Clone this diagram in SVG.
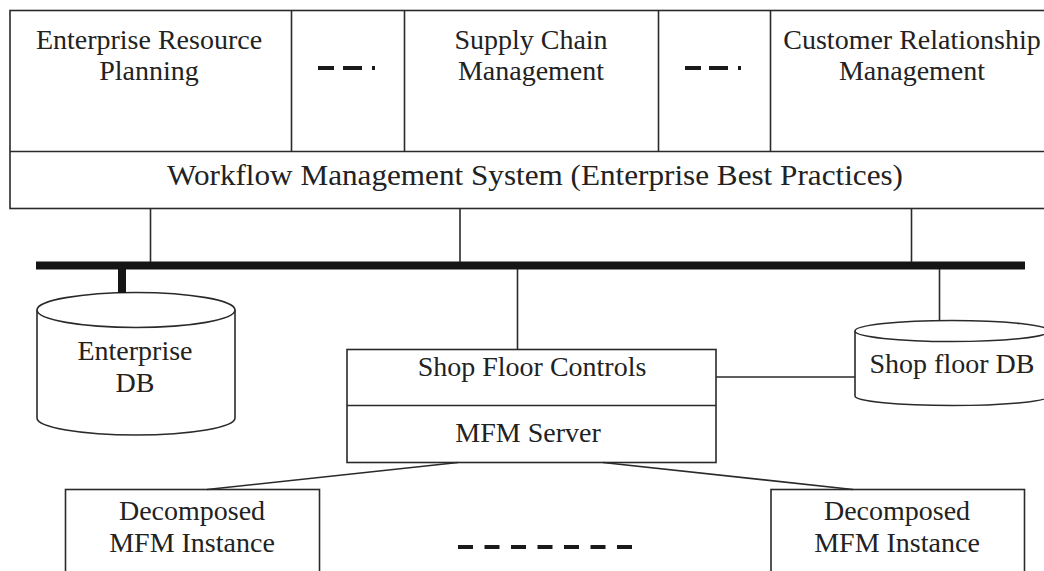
<svg xmlns="http://www.w3.org/2000/svg" width="1044" height="571" viewBox="0 0 1044 571" font-family="'Liberation Serif', 'DejaVu Serif', serif">
  <style>
    .box { fill: #fff; stroke: #2a2a2a; stroke-width: 1.6; }
    .line { fill: none; stroke: #2a2a2a; stroke-width: 1.6; }
    .bus { fill: none; stroke: #151515; stroke-width: 8; }
    .stub { fill: none; stroke: #151515; stroke-width: 8; }
    .dash { fill: none; stroke: #1a1a1a; stroke-width: 4; }
    .lbl { font-family: 'Liberation Serif', 'DejaVu Serif', serif; font-size: 28px; fill: #222; text-anchor: middle; }
  </style>

  <rect width="1044" height="571" fill="#fff"/>

  <!-- Enterprise application layer with workflow band -->
  <g id="enterprise-apps">
    <rect class="box" x="10" y="10.5" width="1060" height="198"/>
    <line class="line" x1="10" y1="151.5" x2="1070" y2="151.5"/>
    <line class="line" x1="291.5" y1="10.5" x2="291.5" y2="151.5"/>
    <line class="line" x1="404.5" y1="10.5" x2="404.5" y2="151.5"/>
    <line class="line" x1="658.5" y1="10.5" x2="658.5" y2="151.5"/>
    <line class="line" x1="770.5" y1="10.5" x2="770.5" y2="151.5"/>
  </g>

  <g id="erp">
    <text class="lbl" x="149" y="49">Enterprise Resource</text>
    <text class="lbl" x="149" y="80">Planning</text>
  </g>

  <g id="ellipsis-1">
    <path class="dash" d="M318 68H334M343 68H362M372 68H375"/>
  </g>

  <g id="scm">
    <text class="lbl" x="531" y="49">Supply Chain</text>
    <text class="lbl" x="531" y="80">Management</text>
  </g>

  <g id="ellipsis-2">
    <path class="dash" d="M685 68H701M709 68H728M738 68H741"/>
  </g>

  <g id="crm">
    <text class="lbl" x="912" y="49">Customer Relationship</text>
    <text class="lbl" x="912" y="80">Management</text>
  </g>

  <g id="workflow">
    <text class="lbl" x="535" y="185" style="font-size:30px" textLength="736" lengthAdjust="spacingAndGlyphs">Workflow Management System (Enterprise Best Practices)</text>
  </g>

  <!-- Enterprise DB cylinder -->
  <g id="enterprise-db">
    <path class="box" d="M37 310V418A99 17 0 0 0 235 418V310"/>
    <ellipse class="box" cx="136" cy="310" rx="99" ry="17.5"/>
    <text class="lbl" x="135" y="360">Enterprise</text>
    <text class="lbl" x="135" y="392">DB</text>
  </g>

  <!-- Shop floor controls / MFM server -->
  <g id="shop-floor-controls">
    <rect class="box" x="347" y="349.5" width="369" height="113"/>
    <line class="line" x1="347" y1="405.5" x2="716" y2="405.5"/>
    <text class="lbl" x="532" y="376">Shop Floor Controls</text>
    <text class="lbl" x="528" y="442">MFM Server</text>
  </g>

  <!-- Shop floor DB cylinder -->
  <g id="shop-floor-db">
    <path class="box" d="M855 331V396A97 9.5 0 0 0 1049 396V331"/>
    <ellipse class="box" cx="952" cy="331" rx="97" ry="10.5"/>
    <text class="lbl" x="952" y="373">Shop floor DB</text>
  </g>

  <!-- Decomposed instances -->
  <g id="instance-left">
    <rect class="box" x="65.5" y="489.5" width="254" height="100"/>
    <text class="lbl" x="192" y="520">Decomposed</text>
    <text class="lbl" x="192" y="552">MFM Instance</text>
  </g>

  <g id="instance-right">
    <rect class="box" x="771" y="489.5" width="253.5" height="100"/>
    <text class="lbl" x="897" y="520">Decomposed</text>
    <text class="lbl" x="897" y="552">MFM Instance</text>
  </g>

  <g id="ellipsis-3">
    <line class="dash" x1="458" y1="547" x2="632" y2="547" stroke-dasharray="15 11.5"/>
  </g>

  <!-- Connectors and bus -->
  <g id="connectors">
    <line class="bus" x1="36" y1="265.5" x2="1025" y2="265.5"/>
    <line class="line" x1="150.5" y1="208.5" x2="150.5" y2="262"/>
    <line class="line" x1="460" y1="208.5" x2="460" y2="262"/>
    <line class="line" x1="911.5" y1="208.5" x2="911.5" y2="262"/>
    <line class="stub" x1="122" y1="265" x2="122" y2="293"/>
    <line class="line" x1="517.5" y1="269" x2="517.5" y2="349.5"/>
    <line class="line" x1="939.5" y1="269" x2="939.5" y2="320.5"/>
    <line class="line" x1="716" y1="377" x2="855" y2="377"/>
    <line class="line" x1="458" y1="462.5" x2="207" y2="489.5"/>
    <line class="line" x1="603" y1="462.5" x2="853" y2="489.5"/>
  </g>
</svg>
